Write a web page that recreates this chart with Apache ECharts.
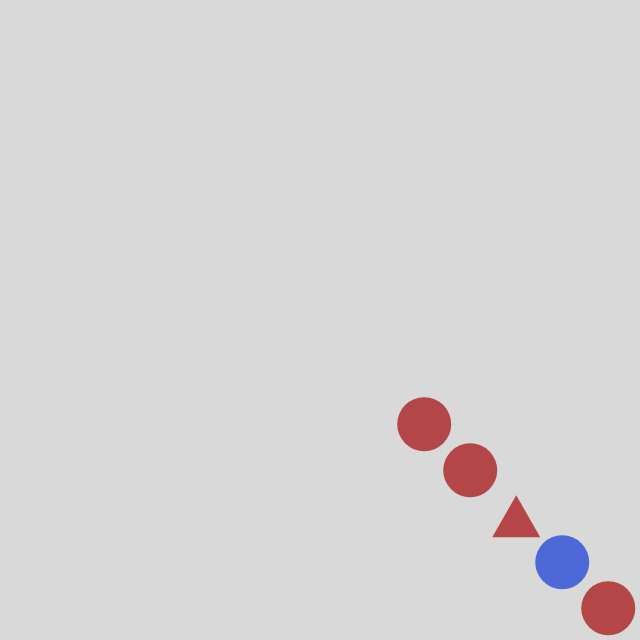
<!DOCTYPE html>
<html>
<head>
<meta charset="utf-8">
<script src="https://cdn.jsdelivr.net/npm/echarts@6/dist/echarts.min.js"></script>
<style>html,body{margin:0;padding:0;background:#d9d9d9}#main{width:640px;height:640px}</style>
</head>
<body>
<div id="main"></div>
<script>
var xs=[9,10,11,12,13];
var ys=[9,10,11,12,13];
var shapes=['circle','circle','triangle','circle','circle'];
var colors=['#ab2023','#ab2023','#ab2023','#2a4bd7','#ab2023'];

var pts=[];
for(var i=0;i<xs.length;i++){
	pts.push({value:[xs[i],ys[i]],symbol:shapes[i],symbolSize:shapes[i]=='triangle'?[48,42]:54,itemStyle:{color:colors[i]}});
}
var myChart=echarts.init(document.getElementById('main'));
myChart.setOption({
	backgroundColor:'#d9d9d9',
	animation:false,
	grid:{left:0,right:0,top:0,bottom:0},
	xAxis:{type:'value',min:-0.22,max:13.69,show:false},
	yAxis:{type:'value',min:-0.22,max:13.69,inverse:true,show:false},
	series:[{type:'scatter',data:pts}]
});
</script>
</body>
</html>
